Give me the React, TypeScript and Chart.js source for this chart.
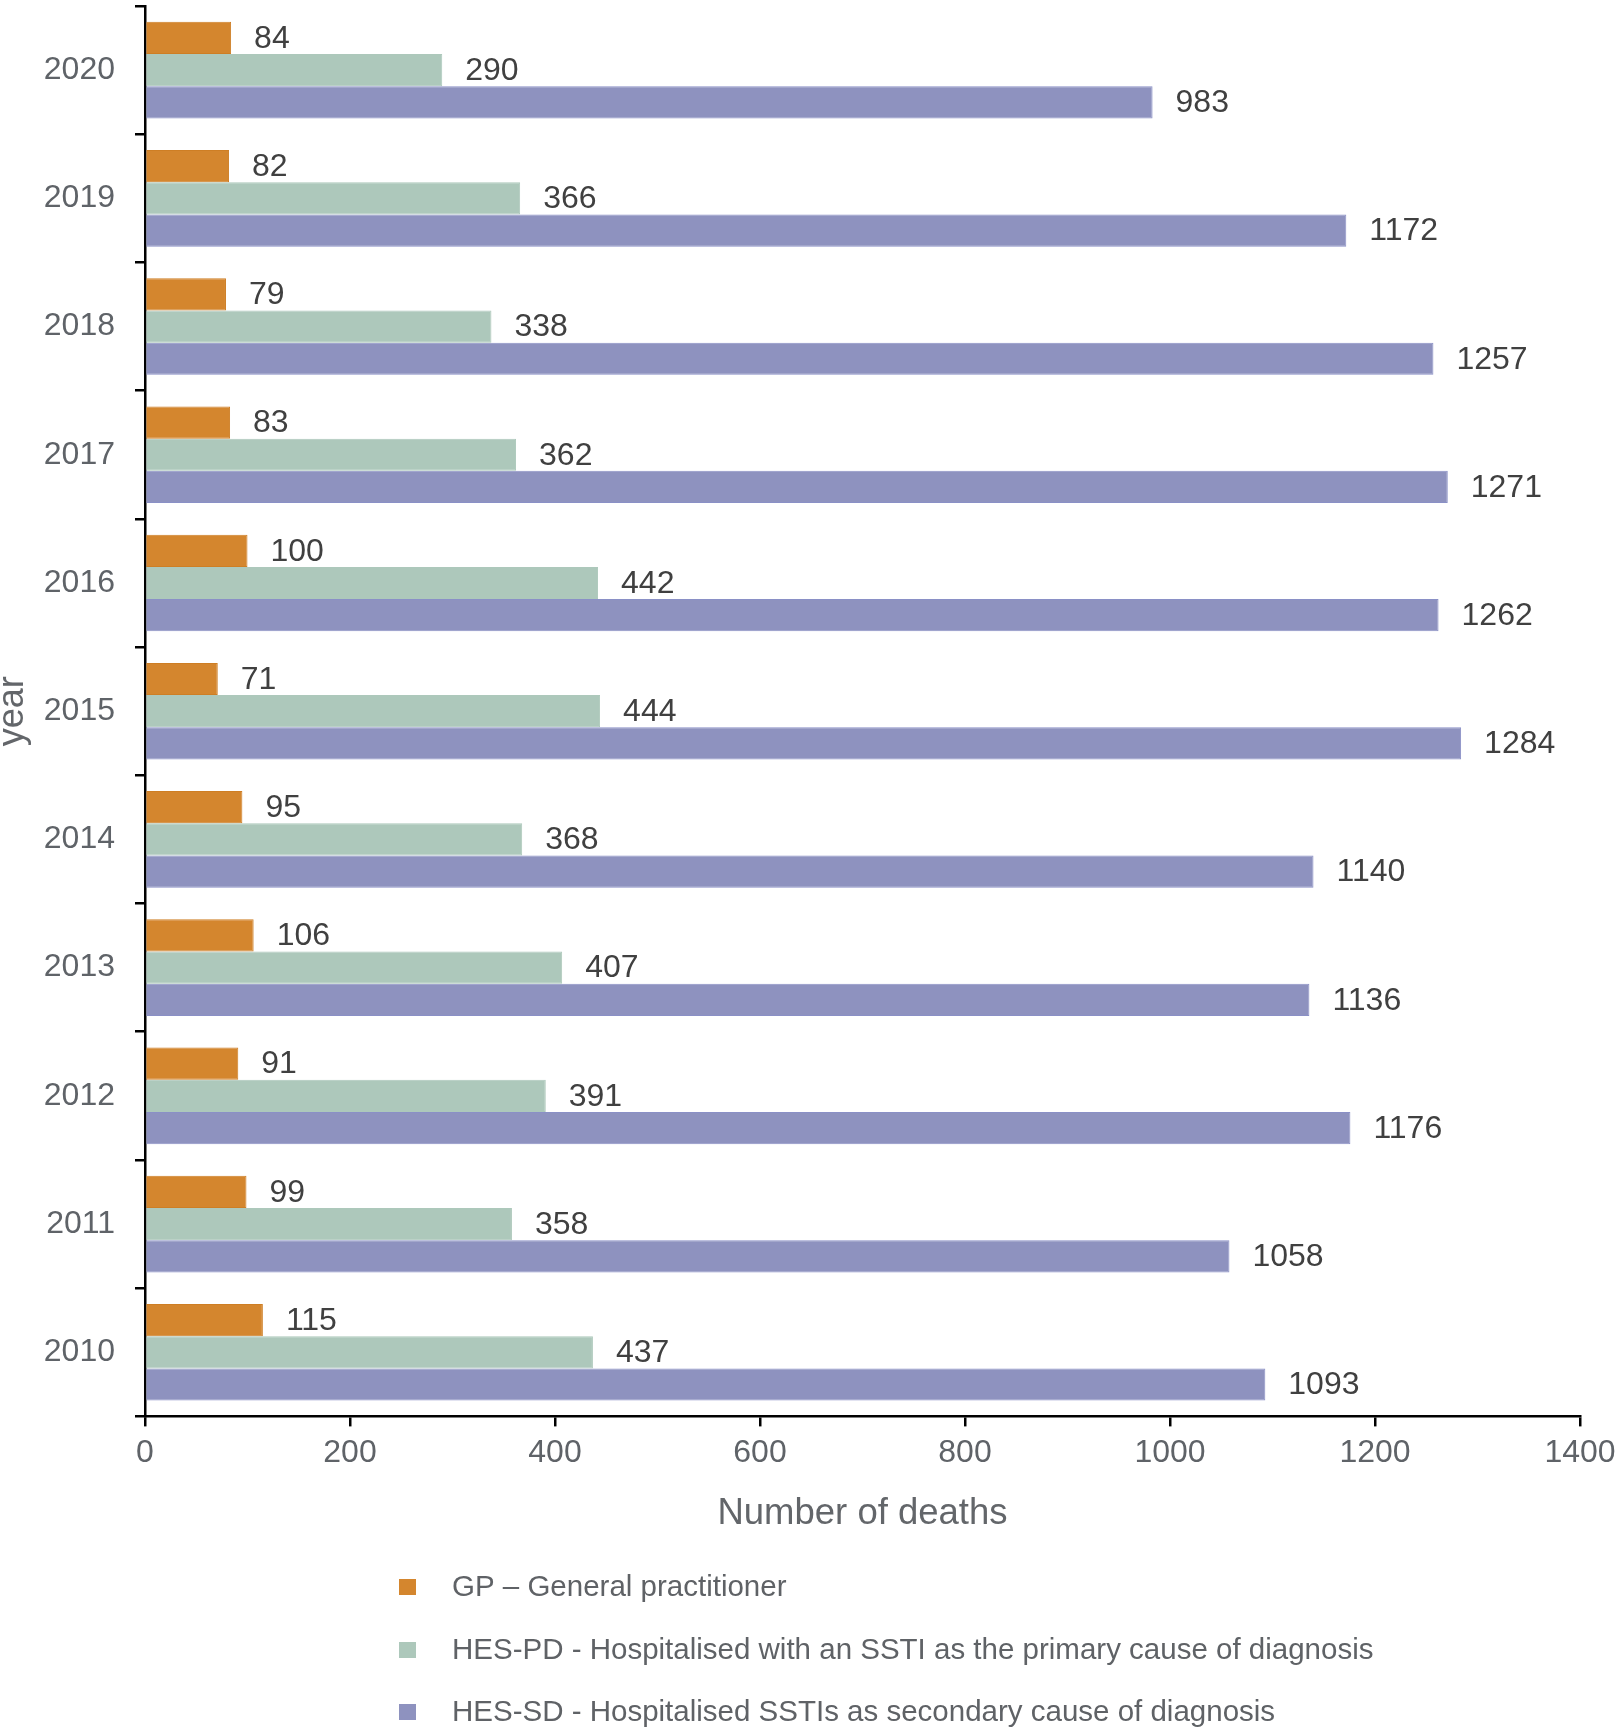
import { useEffect, useRef } from "react";
import { Chart, registerables } from "chart.js";

Chart.register(...registerables);

// Deaths by year, one series per data source (top row = most recent year)
const years = ["2020", "2019", "2018", "2017", "2016", "2015", "2014", "2013", "2012", "2011", "2010"];
const gpDeaths = [84, 82, 79, 83, 100, 71, 95, 106, 91, 99, 115];
const hesPdDeaths = [290, 366, 338, 362, 442, 444, 368, 407, 391, 358, 437];
const hesSdDeaths = [983, 1172, 1257, 1271, 1262, 1284, 1140, 1136, 1176, 1058, 1093];

const seriesLabels = [
  "GP \u2013 General practitioner",
  "HES-PD - Hospitalised with an SSTI as the primary cause of diagnosis",
  "HES-SD - Hospitalised SSTIs as secondary cause of diagnosis",
];

const xMin = 0;
const xMax = 1400;
const xStep = 200;

const FONT = '"Liberation Sans", Arial, Helvetica, sans-serif';
const W = 1621;
const H = 1736;

// Vertical centres of the three legend rows below the x axis
const LEGEND_ROWS = [1587, 1650, 1712];

const valueLabels = {
  id: "valueLabels",
  afterDatasetsDraw(chart: any) {
    const { ctx } = chart;
    ctx.save();
    ctx.font = `32px ${FONT}`;
    ctx.fillStyle = "#404040";
    ctx.textAlign = "left";
    ctx.textBaseline = "middle";
    chart.data.datasets.forEach((ds: any, i: number) => {
      const meta = chart.getDatasetMeta(i);
      meta.data.forEach((bar: any, j: number) => {
        ctx.fillText(String(ds.data[j]), bar.x + 23, bar.y + 1);
      });
    });
    ctx.restore();
  },
};

const stackedLegend = {
  id: "stackedLegend",
  afterDraw(chart: any) {
    const { ctx } = chart;
    ctx.save();
    ctx.font = `29.5px ${FONT}`;
    ctx.textAlign = "left";
    ctx.textBaseline = "middle";
    chart.data.datasets.forEach((ds: any, i: number) => {
      const cy = LEGEND_ROWS[i];
      ctx.fillStyle = ds.backgroundColor;
      ctx.fillRect(399, cy - 8, 17, 16);
      ctx.fillStyle = "#5f6266";
      ctx.fillText(ds.label, 452, cy + 1);
    });
    ctx.restore();
  },
};

export default function App() {
  const canvasRef = useRef<HTMLCanvasElement | null>(null);

  useEffect(() => {
    document.body.style.margin = "0";
    document.body.style.overflow = "hidden";
    if (!canvasRef.current) return;

    const chart = new Chart(canvasRef.current, {
      type: "bar",
      data: {
        labels: years,
        datasets: [
          {
            label: seriesLabels[0],
            data: gpDeaths,
            backgroundColor: "#D4862E",
            borderColor: "#CE7E24",
            borderWidth: 1,
          },
          {
            label: seriesLabels[1],
            data: hesPdDeaths,
            backgroundColor: "#ADC8BB",
            borderColor: "#ADC8BB",
            borderWidth: 1,
          },
          {
            label: seriesLabels[2],
            data: hesSdDeaths,
            backgroundColor: "#8E92BF",
            borderColor: "#8A90C6",
            borderWidth: 1,
          },
        ],
      },
      options: {
        indexAxis: "y",
        responsive: false,
        animation: false,
        devicePixelRatio: 1,
        layout: { padding: { top: 6, right: 41, bottom: 200, left: 0 } },
        datasets: {
          bar: { categoryPercentage: 0.7535, barPercentage: 1 },
        },
        plugins: {
          legend: { display: false },
          tooltip: { enabled: false },
        },
        scales: {
          x: {
            type: "linear",
            position: "bottom",
            min: xMin,
            max: xMax,
            afterFit: (scale: any) => {
              scale.height = 119.6;
              scale.paddingLeft = 0;
              scale.paddingRight = 0;
            },
            ticks: {
              stepSize: xStep,
              color: "#5f6368",
              font: { family: FONT, size: 32 },
              padding: 8,
              callback: (v: any) => String(v),
            },
            grid: {
              display: true,
              drawOnChartArea: false,
              drawTicks: true,
              tickLength: 10,
              color: "#000000",
              lineWidth: 2.5,
            },
            border: { display: true, color: "#000000", width: 2.5 },
            title: {
              display: true,
              text: "Number of deaths",
              color: "#63666a",
              font: { family: FONT, size: 36.5 },
              padding: 0,
            },
          },
          y: {
            type: "category",
            position: "left",
            afterFit: (scale: any) => {
              scale.width = 145;
              scale.paddingTop = 0;
              scale.paddingBottom = 0;
            },
            ticks: {
              color: "#5f6368",
              font: { family: FONT, size: 32 },
              padding: 20,
            },
            grid: {
              display: true,
              offset: true,
              drawOnChartArea: false,
              drawTicks: true,
              tickLength: 10,
              color: "#000000",
              lineWidth: 2.5,
            },
            border: { display: true, color: "#000000", width: 2.5 },
            title: {
              display: true,
              text: "year",
              color: "#63666a",
              font: { family: FONT, size: 36, lineHeight: 0.7 },
              padding: 0,
            },
          },
        },
      },
      plugins: [valueLabels, stackedLegend],
    });

    return () => chart.destroy();
  }, []);

  return (
    <div style={{ width: W, height: H }}>
      <canvas ref={canvasRef} width={W} height={H} style={{ display: "block" }} />
    </div>
  );
}
